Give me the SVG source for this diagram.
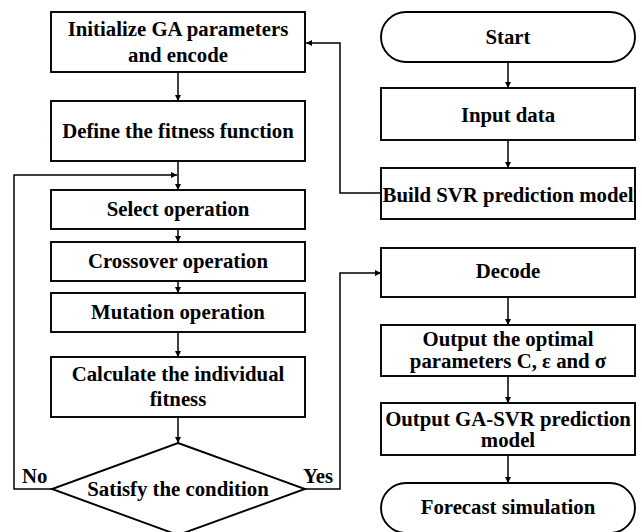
<svg xmlns="http://www.w3.org/2000/svg" width="642" height="532" viewBox="0 0 642 532">
<defs>
<marker id="ah" viewBox="0 0 10 10" refX="10" refY="5" markerWidth="7" markerHeight="6" markerUnits="userSpaceOnUse" orient="auto">
<path d="M0,0 L10,5 L0,10 z" fill="#000"/>
</marker>
</defs>
<style>
.box{fill:#fff;stroke:#000;stroke-width:1.9}
.ln{fill:none;stroke:#000;stroke-width:1.5}
.arr{marker-end:url(#ah)}
.c{text-anchor:middle}
</style>
<rect width="642" height="532" fill="#fff"/>
<g id="connectors">
<path class="ln arr" d="M178,72 V101"/>
<path class="ln arr" d="M178,161 V190"/>
<path class="ln arr" d="M52,489 H14 V175 H177"/>
<path class="ln arr" d="M178,229 V242"/>
<path class="ln arr" d="M178,281 V293"/>
<path class="ln arr" d="M178,332 V357"/>
<path class="ln arr" d="M178,417 V443"/>
<path class="ln arr" d="M305,489 H340 V273 H381"/>
<path class="ln arr" d="M508,62 V88"/>
<path class="ln arr" d="M508,140 V168"/>
<path class="ln arr" d="M381,193 H340 V43 H306"/>
<path class="ln arr" d="M508,297 V325"/>
<path class="ln arr" d="M508,376 V403"/>
<path class="ln arr" d="M508,455 V483"/>
</g>
<g font-family="Liberation Serif, DejaVu Serif, serif" font-weight="bold" font-size="20.8" fill="#000">
<g id="n-init"><rect class="box" x="51" y="12" width="254" height="60"/><text class="c" x="178" y="36">Initialize GA parameters</text><text class="c" x="178" y="62">and encode</text></g>
<g id="n-define"><rect class="box" x="51" y="101" width="254" height="60"/><text class="c" x="178" y="138">Define the fitness function</text></g>
<g id="n-select"><rect class="box" x="51" y="190" width="254" height="39"/><text class="c" x="178" y="216">Select operation</text></g>
<g id="n-cross"><rect class="box" x="51" y="242" width="254" height="39"/><text class="c" x="178" y="268">Crossover operation</text></g>
<g id="n-mut"><rect class="box" x="51" y="293" width="254" height="39"/><text class="c" x="178" y="319">Mutation operation</text></g>
<g id="n-calc"><rect class="box" x="51" y="357" width="254" height="60"/><text class="c" x="178" y="381">Calculate the individual</text><text class="c" x="178" y="406">fitness</text></g>
<g id="n-cond"><polygon class="box" points="178,443 305,489 178,535 52,489"/><text class="c" x="178" y="496">Satisfy the condition</text></g>
<g id="l-no"><text x="22" y="483">No</text></g>
<g id="l-yes"><text x="303" y="483">Yes</text></g>
<g id="n-start"><rect class="box" x="381" y="12" width="254" height="50" rx="25" ry="25"/><text class="c" x="508" y="44">Start</text></g>
<g id="n-input"><rect class="box" x="381" y="88" width="254" height="52"/><text class="c" x="508" y="122">Input data</text></g>
<g id="n-build"><rect class="box" x="381" y="168" width="254" height="51"/><text class="c" x="508" y="202">Build SVR prediction model</text></g>
<g id="n-decode"><rect class="box" x="381" y="248" width="254" height="49"/><text class="c" x="508" y="278">Decode</text></g>
<g id="n-optimal"><rect class="box" x="381" y="325" width="254" height="51"/><text class="c" x="508" y="346">Output the optimal</text><text class="c" x="508" y="368">parameters C, ε and σ</text></g>
<g id="n-gasvr"><rect class="box" x="381" y="403" width="254" height="52"/><text class="c" x="508" y="426">Output GA-SVR prediction</text><text class="c" x="508" y="447">model</text></g>
<g id="n-forecast"><rect class="box" x="381" y="483" width="254" height="50" rx="25" ry="25"/><text class="c" x="508" y="514">Forecast simulation</text></g>
</g>
</svg>
